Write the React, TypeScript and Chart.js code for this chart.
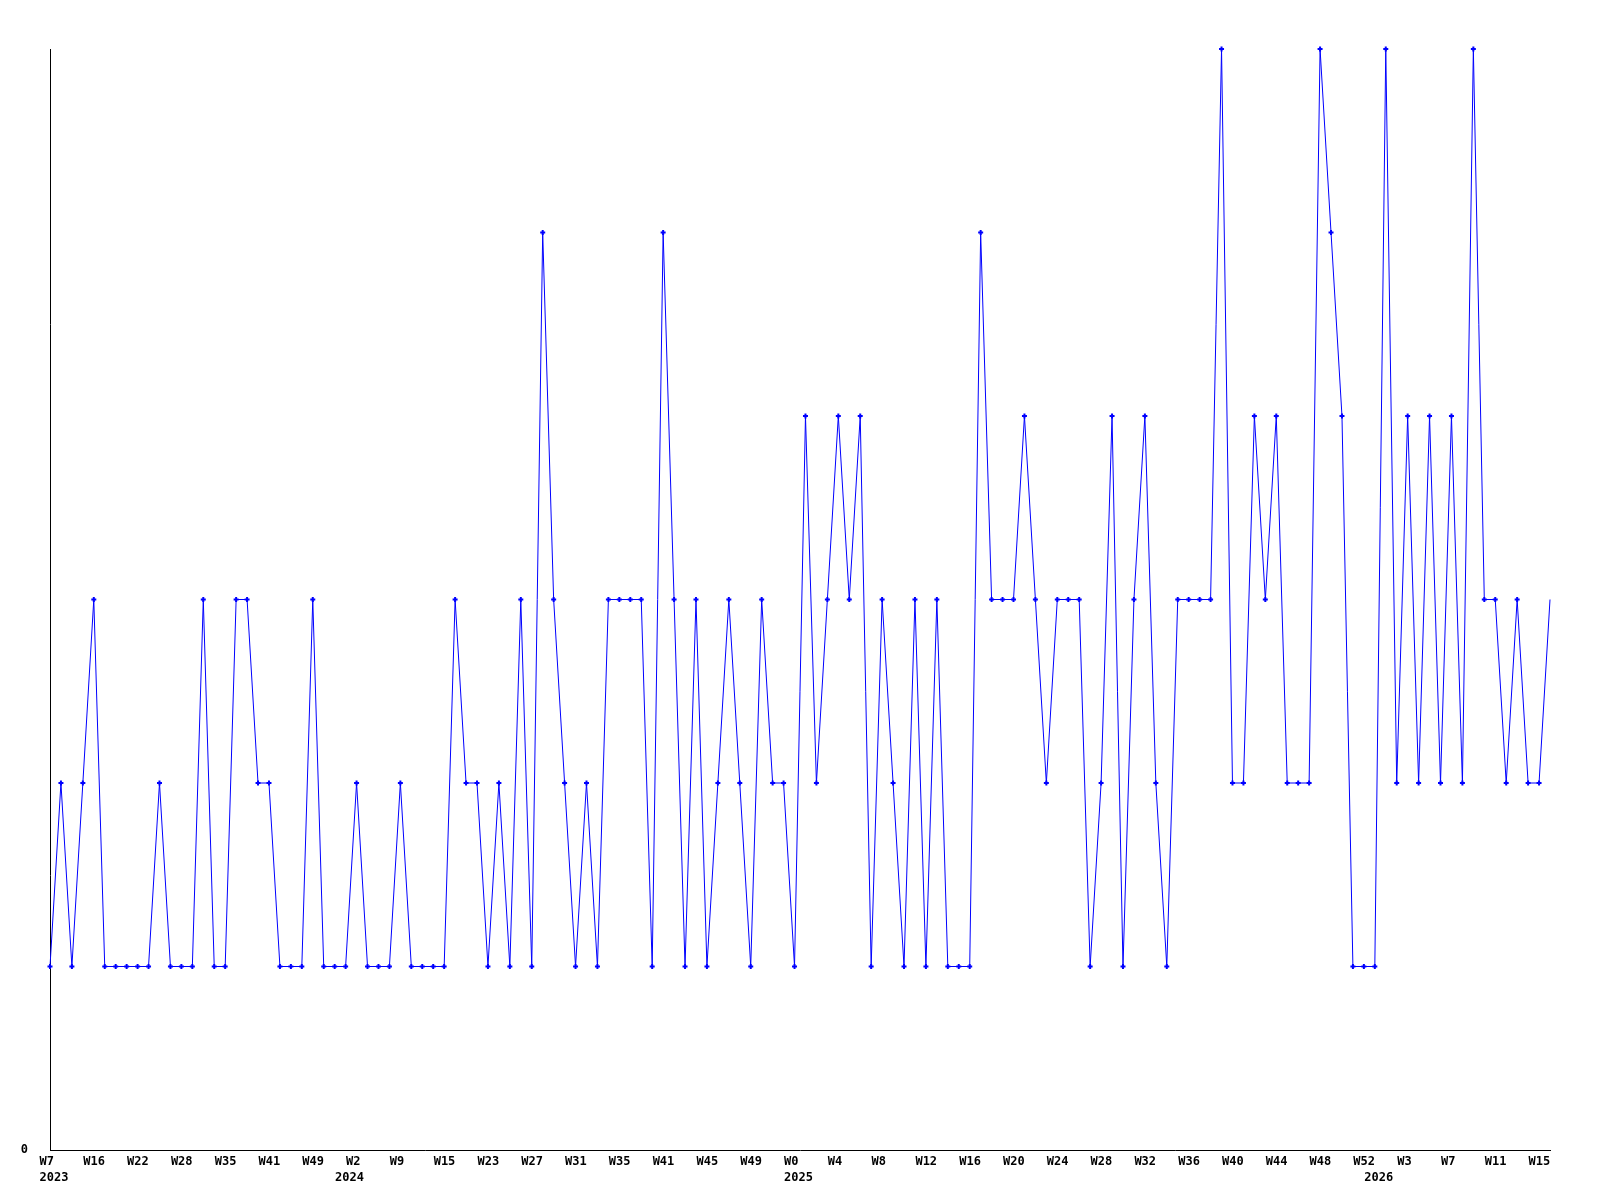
import { useEffect, useRef } from 'react';
import { Chart, registerables } from 'chart.js';

Chart.register(...registerables);

// One value per data point (evenly spaced along the x axis)
const values = [
  1, 2, 1, 2, 3, 1, 1, 1, 1, 1, 2, 1, 1, 1, 3, 1, 1, 3, 3, 2,
  2, 1, 1, 1, 3, 1, 1, 1, 2, 1, 1, 1, 2, 1, 1, 1, 1, 3, 2, 2,
  1, 2, 1, 3, 1, 5, 3, 2, 1, 2, 1, 3, 3, 3, 3, 1, 5, 3, 1, 3,
  1, 2, 3, 2, 1, 3, 2, 2, 1, 4, 2, 3, 4, 3, 4, 1, 3, 2, 1, 3,
  1, 3, 1, 1, 1, 5, 3, 3, 3, 4, 3, 2, 3, 3, 3, 1, 2, 4, 1, 3,
  4, 2, 1, 3, 3, 3, 3, 6, 2, 2, 4, 3, 4, 2, 2, 2, 6, 5, 4, 1,
  1, 1, 6, 2, 4, 2, 4, 2, 4, 2, 6, 3, 3, 2, 3, 2, 2, 3,
];

// Week labels shown every TICK_EVERY points
const weekTickLabels = [
  'W7', 'W16', 'W22', 'W28', 'W35', 'W41', 'W49',
  'W2', 'W9', 'W15', 'W23', 'W27', 'W31', 'W35', 'W41', 'W45', 'W49',
  'W0', 'W4', 'W8', 'W12', 'W16', 'W20', 'W24', 'W28', 'W32', 'W36', 'W40', 'W44', 'W48', 'W52',
  'W3', 'W7', 'W11', 'W15',
];
const TICK_EVERY = 4;

// Year labels and the point index where each year begins
const yearLabels = ['2023', '2024', '2025', '2026'];
const yearTickIndex = [0, 27, 68, 121];

const Y_MAX = 6;

export default function App() {
  const ref = useRef<HTMLCanvasElement>(null);

  useEffect(() => {
    const font = {
      family: '"DejaVu Sans Mono", monospace',
      size: 12,
      weight: 'bold' as const,
      lineHeight: 1,
    };
    const last = values.length - 1;
    const noGrid = { display: false, drawTicks: false, tickLength: 0 };
    const chart = new Chart(ref.current!, {
      type: 'line',
      data: {
        datasets: [
          {
            data: values.map((v, i) => ({ x: i, y: v })),
            borderColor: '#0000ff',
            backgroundColor: '#0000ff',
            borderWidth: 1,
            tension: 0,
            pointStyle: 'cross',
            pointRadius: (ctx: any) => (ctx.dataIndex === last ? 0 : 2.5),
            pointBorderWidth: 2,
            pointBorderColor: '#0000ff',
            clip: false as any,
          },
        ],
      },
      options: {
        responsive: false,
        animation: false,
        events: [],
        layout: { padding: { left: 0, top: 49, right: 50, bottom: 0 } },
        plugins: { legend: { display: false }, tooltip: { enabled: false } },
        scales: {
          x: {
            type: 'linear',
            position: 'bottom',
            weight: 0,
            min: 0,
            max: last,
            grid: noGrid,
            border: { display: true, color: '#000', width: 1 },
            afterBuildTicks: (s: any) => {
              s.ticks = weekTickLabels.map((_, k) => ({ value: k * TICK_EVERY }));
            },
            afterFit: (s: any) => {
              s.height = 20;
            },
            ticks: {
              autoSkip: false,
              maxRotation: 0,
              minRotation: 0,
              align: 'start',
              labelOffset: -10.5,
              padding: 6,
              color: '#000',
              font,
              callback: (v: any) => weekTickLabels[Math.round(Number(v) / TICK_EVERY)] ?? '',
            },
          },
          x2: {
            type: 'linear',
            position: 'bottom',
            weight: 1,
            min: 0,
            max: last,
            grid: noGrid,
            border: { display: false },
            afterBuildTicks: (s: any) => {
              s.ticks = yearTickIndex.map((v) => ({ value: v }));
            },
            afterFit: (s: any) => {
              s.height = 30;
            },
            ticks: {
              autoSkip: false,
              maxRotation: 0,
              minRotation: 0,
              align: 'start',
              labelOffset: -10.5,
              padding: 1.5,
              color: '#000',
              font,
              callback: (v: any) => {
                const k = yearTickIndex.indexOf(Math.round(Number(v)));
                return k >= 0 ? yearLabels[k] : '';
              },
            },
          },
          y: {
            min: 0,
            max: Y_MAX,
            grid: noGrid,
            border: { display: true, color: '#000', width: 1 },
            afterBuildTicks: (s: any) => {
              s.ticks = [{ value: 0 }];
            },
            afterFit: (s: any) => {
              s.width = 50;
            },
            ticks: {
              padding: 22,
              color: '#000',
              font,
              callback: (v: any) => String(v),
            },
          },
        },
      } as any,
    });
    return () => chart.destroy();
  }, []);

  return (
    <div style={{ position: 'absolute', left: 0, top: 0, width: 1600, height: 1200 }}>
      <canvas ref={ref} width={1600} height={1200} style={{ width: 1600, height: 1200 }} />
    </div>
  );
}
